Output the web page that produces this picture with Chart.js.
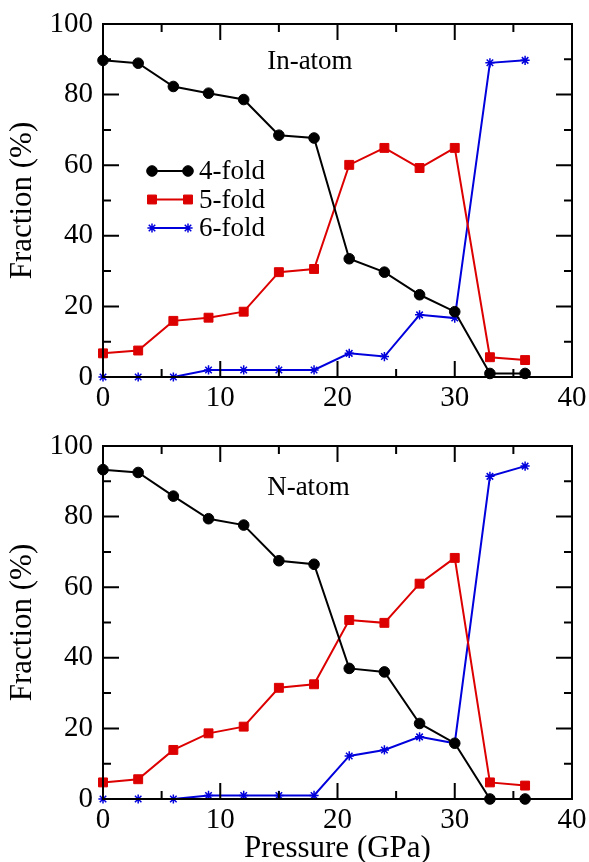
<!DOCTYPE html>
<html>
<head>
<meta charset="utf-8">
<script src="https://cdn.jsdelivr.net/npm/chart.js@4.4.1/dist/chart.umd.min.js"></script>
<style>
    html, body { margin: 0; padding: 0; background: #fff; }
    .panel { position: absolute; left: 0; width: 589px; }
    #topPanel { top: 0; height: 430px; }
    #bottomPanel { top: 430px; height: 432px; }
</style>
</head>
<body>
<div class="panel" id="topPanel"><canvas id="inChart"></canvas></div>
<div class="panel" id="bottomPanel"><canvas id="nChart"></canvas></div>
<script>
'use strict';

// ============================================================================
// Data
// ============================================================================

const pressure = [0, 3, 6, 9, 12, 15, 18, 21, 24, 27, 30, 33, 36];

const seriesNames = ['4-fold', '5-fold', '6-fold'];

// In-atom panel
const inFourFold = [89.7, 88.9, 82.3, 80.4, 78.6, 68.5, 67.7, 33.5, 29.7, 23.3, 18.5, 1.0, 1.0];
const inFiveFold = [6.7, 7.5, 15.9, 16.8, 18.5, 29.7, 30.6, 60.1, 64.9, 59.2, 64.9, 5.6, 4.8];
const inSixFold  = [0, 0, 0, 2.0, 2.0, 2.0, 2.0, 6.7, 5.8, 17.6, 16.7, 89.0, 89.7];

// N-atom panel
const nFourFold = [93.3, 92.5, 85.8, 79.4, 77.6, 67.5, 66.5, 37.0, 36.0, 21.4, 15.8, 0, 0];
const nFiveFold = [4.7, 5.6, 13.9, 18.6, 20.5, 31.5, 32.5, 50.7, 49.9, 61.0, 68.3, 4.7, 3.8];
const nSixFold  = [0, 0, 0, 1.0, 1.0, 1.0, 1.0, 12.2, 13.9, 17.6, 15.8, 91.4, 94.3];

const xTicks = [0, 10, 20, 30, 40];
const yTicks = [0, 20, 40, 60, 80, 100];

// ============================================================================
// Style
// ============================================================================

const FONT = "'Liberation Serif', 'DejaVu Serif', serif";
const colors = { four: '#000000', five: '#dd0000', six: '#0000dd' };
const pointStyles = { four: 'circle', five: 'rect', six: 'star' };
const pointRadii = { four: 5.3, five: 6.3, six: 4.6 };

function makeDataset(label, key, values) {
    return {
        label: label,
        data: pressure.map((p, i) => ({ x: p, y: values[i] })),
        borderColor: colors[key],
        backgroundColor: colors[key],
        borderWidth: 2,
        pointStyle: pointStyles[key],
        pointRadius: pointRadii[key],
        pointBorderWidth: key === 'six' ? 1.5 : 1,
        pointBorderColor: colors[key],
        pointBackgroundColor: colors[key],
        tension: 0,
        clip: false
    };
}

// Frame + inward ticks on all four sides
const frameTicks = {
    id: 'frameTicks',
    afterDatasetsDraw(chart) {
        const { ctx, chartArea: a, scales } = chart;
        const xs = scales.x, ys = scales.y;
        ctx.save();
        ctx.strokeStyle = '#000';
        ctx.lineWidth = 2;
        ctx.beginPath();
        for (let v = 0; v <= 40; v += 5) {
            const len = v % 10 === 0 ? 16 : 8;
            const px = xs.getPixelForValue(v);
            ctx.moveTo(px, a.bottom); ctx.lineTo(px, a.bottom - len);
            ctx.moveTo(px, a.top); ctx.lineTo(px, a.top + len);
        }
        for (let v = 0; v <= 100; v += 10) {
            const len = v % 20 === 0 ? 16 : 8;
            const py = ys.getPixelForValue(v);
            ctx.moveTo(a.left, py); ctx.lineTo(a.left + len, py);
            ctx.moveTo(a.right, py); ctx.lineTo(a.right - len, py);
        }
        ctx.stroke();
        ctx.strokeRect(a.left, a.top, a.right - a.left, a.bottom - a.top);
        ctx.restore();
    }
};

// Panel label placed in data coordinates
const panelLabel = {
    id: 'panelLabel',
    afterDraw(chart, args, opts) {
        if (!opts.text) return;
        const { ctx, scales } = chart;
        ctx.save();
        ctx.fillStyle = '#000';
        ctx.font = '27px ' + FONT;
        ctx.textAlign = 'left';
        ctx.textBaseline = 'middle';
        ctx.fillText(opts.text, scales.x.getPixelForValue(opts.x), scales.y.getPixelForValue(opts.y));
        ctx.restore();
    }
};

// Legend with a line sample and a marker at each end
const sampleLegend = {
    id: 'sampleLegend',
    afterDraw(chart, args, opts) {
        if (!opts.show) return;
        const { ctx, chartArea: a } = chart;
        ctx.save();
        ctx.font = '27px ' + FONT;
        ctx.textBaseline = 'middle';
        chart.data.datasets.forEach((ds, i) => {
            const y = a.top + 147 + i * 28.5;
            const x0 = a.left + 49, x1 = a.left + 85;
            ctx.strokeStyle = ds.borderColor;
            ctx.lineWidth = 2;
            ctx.beginPath();
            ctx.moveTo(x0, y); ctx.lineTo(x1, y);
            ctx.stroke();
            const pOpts = {
                pointStyle: ds.pointStyle, radius: ds.pointRadius,
                rotation: 0, borderWidth: ds.pointBorderWidth
            };
            ctx.fillStyle = ds.backgroundColor;
            ctx.lineWidth = ds.pointBorderWidth;
            Chart.helpers.drawPoint(ctx, pOpts, x0, y);
            Chart.helpers.drawPoint(ctx, pOpts, x1, y);
            ctx.fillStyle = '#000';
            ctx.fillText(ds.label, a.left + 96, y + 1);
        });
        ctx.restore();
    }
};

function buildOptions(cfg) {
    return {
        responsive: true,
        maintainAspectRatio: false,
        animation: false,
        layout: { padding: { top: cfg.top, right: 17, left: 0, bottom: 0 } },
        plugins: {
            legend: { display: false },
            tooltip: { enabled: false },
            panelLabel: { text: cfg.label, x: 14, y: cfg.labelY },
            sampleLegend: { show: cfg.legend }
        },
        scales: {
            x: {
                type: 'linear',
                min: 0, max: 40,
                afterBuildTicks: s => { s.ticks = xTicks.map(v => ({ value: v })); },
                afterFit: s => {
                    s.height = cfg.xHeight;
                    s.paddingLeft = 0; s.paddingRight = 0;
                },
                grid: { display: false, drawTicks: false },
                border: { display: false },
                ticks: {
                    color: '#000',
                    padding: 4,
                    maxRotation: 0,
                    font: { family: FONT, size: 29 }
                },
                title: {
                    display: cfg.xTitle,
                    text: 'Pressure (GPa)',
                    color: '#000',
                    padding: { top: 0, bottom: -5 },
                    font: { family: FONT, size: 31 }
                }
            },
            y: {
                type: 'linear',
                min: 0, max: 100,
                afterBuildTicks: s => { s.ticks = yTicks.map(v => ({ value: v })); },
                afterFit: s => {
                    s.width = 103;
                    s.paddingTop = 0; s.paddingBottom = 0;
                },
                grid: { display: false, drawTicks: false },
                border: { display: false },
                ticks: {
                    color: '#000',
                    padding: 10,
                    font: { family: FONT, size: 29 }
                },
                title: {
                    display: true,
                    text: 'Fraction (%)',
                    color: '#000',
                    padding: { top: 4, bottom: 0 },
                    font: { family: FONT, size: 31 }
                }
            }
        }
    };
}

function createPanel(canvasId, values, cfg) {
    const canvas = document.getElementById(canvasId);
    if (!canvas || typeof Chart === 'undefined') return null;
    return new Chart(canvas, {
        type: 'line',
        data: {
            datasets: [
                makeDataset(seriesNames[0], 'four', values[0]),
                makeDataset(seriesNames[1], 'five', values[1]),
                makeDataset(seriesNames[2], 'six', values[2])
            ]
        },
        options: buildOptions(cfg),
        plugins: [frameTicks, panelLabel, sampleLegend]
    });
}

createPanel('inChart', [inFourFold, inFiveFold, inSixFold], {
    top: 24, xHeight: 53, xTitle: false, label: 'In-atom', labelY: 89.4, legend: true
});
createPanel('nChart', [nFourFold, nFiveFold, nSixFold], {
    top: 16, xHeight: 63, xTitle: true, label: 'N-atom', labelY: 88, legend: false
});
</script>
</body>
</html>
